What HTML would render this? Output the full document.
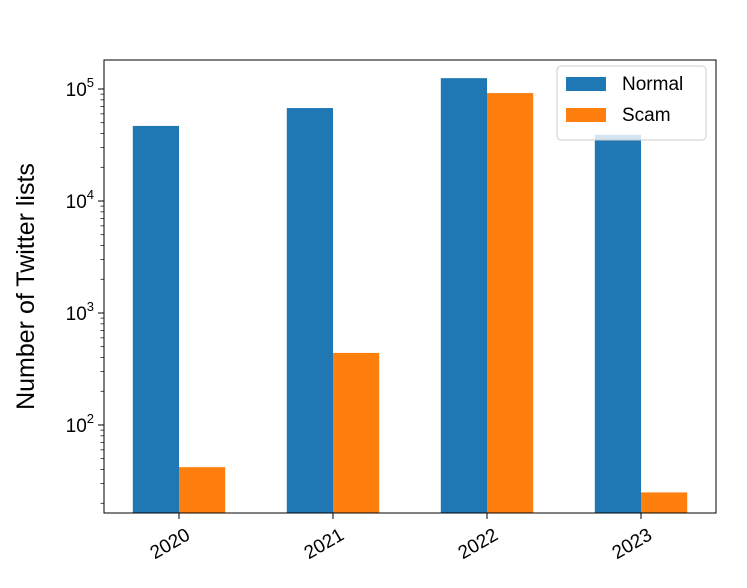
<!DOCTYPE html>
<html><head><meta charset="utf-8"><style>
body{margin:0;background:#fff;}
svg{display:block;font-family:"Liberation Sans","DejaVu Sans",sans-serif;}
</style></head><body>
<svg width="747" height="588" viewBox="0 0 747 588">
<g id="plot"></g>
</svg>
<script>
const categories=["2020","2021","2022","2023"];
const normalValues=[46800,67600,125000,39000];
const scamValues=[42,440,92000,25];
const yTickExps=[2,3,4,5];
const seriesNames=["Normal","Scam"];

const L=104,R=716,T=60,B=513;
const logMin=1.214,logMax=5.259;
const xMin=-0.487,xMax=3.487;
const NS="http://www.w3.org/2000/svg";
const g=document.getElementById('plot');
function y(v){return B-(Math.log10(v)-logMin)/(logMax-logMin)*(B-T);}
function x(i){return L+(i-xMin)/(xMax-xMin)*(R-L);}
function mk(t,a,p){const e=document.createElementNS(NS,t);for(const k in a)e.setAttribute(k,a[k]);(p||g).appendChild(e);return e;}
const bw=0.3;
const colors=["#1f77b4","#ff7f0e"];
[normalValues,scamValues].forEach((vals,s)=>{
  vals.forEach((v,i)=>{
    const x0=x(i+(s===0?-bw:0)),x1=x(i+(s===0?0:bw));
    const r=mk('rect',{x:x0,y:y(v),width:x1-x0,height:B-y(v),fill:colors[s]});
    
    
  });
});
// axes frame
const fr=mk('rect',{x:L,y:T,width:R-L,height:B-T,fill:'none',stroke:'#000','stroke-width':1});


// y ticks
for(let e=1;e<=5;e++){
  for(let m=1;m<10;m++){
    const v=m*Math.pow(10,e);const yy=y(v);
    if(yy<T||yy>B)continue;
    const major=m===1;
    mk('line',{x1:L,x2:L-(major?6:3.5),y1:yy,y2:yy,stroke:'#000','stroke-width':major?1:0.7});
  }
}
yTickExps.forEach(e=>{
  const t=mk('text',{x:L-10,y:y(Math.pow(10,e))+7,'text-anchor':'end','font-size':19,fill:'#000'});
  
  
  t.textContent='10';
  const sup=mk('tspan',{dy:-9,'font-size':13},t);sup.textContent=String(e);
});
// x ticks
categories.forEach((c,i)=>{
  const xx=x(i);
  mk('line',{x1:xx,x2:xx,y1:B,y2:B+6,stroke:'#000'});
  const t=mk('text',{x:0,y:0,'text-anchor':'middle','font-size':19,fill:'#000',transform:`translate(${xx-6},${B+36}) rotate(-30)`});
  
  
  t.textContent=c;
});
// y label
const yl=mk('text',{x:0,y:0,'text-anchor':'middle','font-size':25,fill:'#000',transform:`translate(34,${(T+B)/2}) rotate(-90)`});


yl.textContent='Number of Twitter lists';
// legend
const lg=mk('g',{});


mk('rect',{x:557,y:66,width:149,height:74,rx:4,fill:'#fff','fill-opacity':0.8,stroke:'#ccc'},lg);
seriesNames.forEach((n,s)=>{
  const yy=77+s*31;
  mk('rect',{x:566,y:yy,width:40,height:14,fill:colors[s]},lg);
  const t=mk('text',{x:622,y:yy+13,'font-size':19,fill:'#000'},lg);
  
  
  t.textContent=n;
});
</script>
</body></html>
